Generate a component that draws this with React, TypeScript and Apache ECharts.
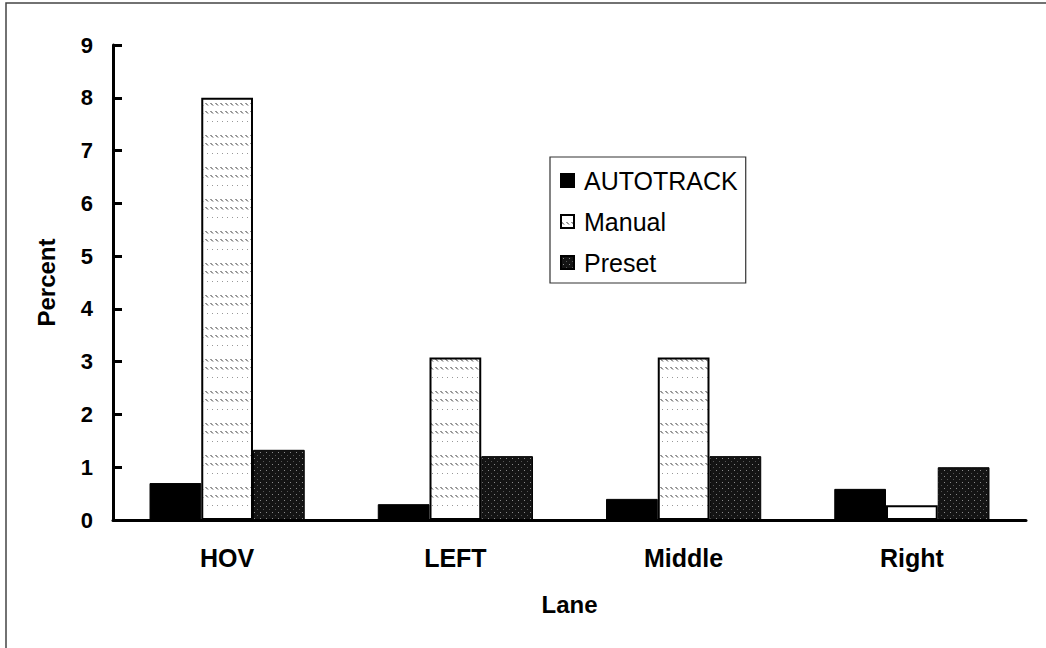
import React, { useEffect, useRef } from "react";
import * as echarts from "echarts";

const categories = ["HOV", "LEFT", "Middle", "Right"];
const autotrack = [0.7, 0.3, 0.4, 0.59];
const manual = [8.0, 3.08, 3.08, 0.28];
const preset = [1.33, 1.21, 1.21, 1.0];
const yTicks = [0, 1, 2, 3, 4, 5, 6, 7, 8, 9];

function manualPattern(): HTMLCanvasElement {
  const c = document.createElement("canvas");
  c.width = 5;
  c.height = 32;
  const ctx = c.getContext("2d")!;
  ctx.fillStyle = "#ffffff";
  ctx.fillRect(0, 0, 5, 32);
  ctx.strokeStyle = "#333333";
  ctx.lineWidth = 1;
  [7, 15].forEach((y) => {
    ctx.beginPath();
    ctx.moveTo(0.5, y);
    ctx.lineTo(3, y + 2.5);
    ctx.stroke();
  });
  ctx.fillStyle = "#999999";
  ctx.fillRect(2, 25, 1, 1);
  return c;
}

function presetPattern(): HTMLCanvasElement {
  const c = document.createElement("canvas");
  c.width = 6;
  c.height = 6;
  const ctx = c.getContext("2d")!;
  ctx.fillStyle = "#141414";
  ctx.fillRect(0, 0, 6, 6);
  ctx.fillStyle = "#8a8a8a";
  ctx.fillRect(2, 2, 1, 1);
  ctx.fillStyle = "#555555";
  ctx.fillRect(5, 5, 1, 1);
  return c;
}

export default function App() {
  const ref = useRef<HTMLDivElement>(null);
  useEffect(() => {
    document.body.style.margin = "0";
    const chart = echarts.init(ref.current!, null, { renderer: "svg" });
    const font = "'Liberation Sans', Arial, sans-serif";
    chart.setOption({
      animation: false,
      backgroundColor: "#ffffff",
      textStyle: { fontFamily: font },
      graphic: [
        {
          type: "rect",
          shape: { x: 6, y: 3, width: 1200, height: 800 },
          style: { fill: "none", stroke: "#444", lineWidth: 1.5 },
          silent: true,
        },
      ],
      grid: { left: 113, right: 20, top: 45, bottom: 128 },
      legend: {
        orient: "vertical",
        left: 550,
        top: 157,
        padding: [11, 8, 8, 10],
        borderColor: "#333",
        borderWidth: 1.2,
        itemWidth: 13,
        itemHeight: 13,
        itemGap: 16,
        icon: "rect",
        textStyle: { fontFamily: font, fontSize: 25, color: "#000", padding: [0, 0, 0, 5] },
        data: ["AUTOTRACK", "Manual", "Preset"],
      },
      xAxis: {
        type: "category",
        data: categories,
        name: "Lane",
        nameLocation: "middle",
        nameGap: 72,
        nameTextStyle: { fontFamily: font, fontWeight: "bold", fontSize: 24, color: "#000" },
        axisLine: { lineStyle: { color: "#000", width: 3 } },
        axisTick: { show: false },
        axisLabel: { fontFamily: font, fontWeight: "bold", fontSize: 25, color: "#000", margin: 25 },
      },
      yAxis: {
        type: "value",
        min: yTicks[0],
        max: yTicks[yTicks.length - 1],
        interval: 1,
        name: "Percent",
        nameLocation: "middle",
        nameGap: 55,
        nameTextStyle: { fontFamily: font, fontWeight: "bold", fontSize: 24, color: "#000" },
        axisLine: { show: true, lineStyle: { color: "#000", width: 3 } },
        axisTick: { show: true, inside: true, length: 9, lineStyle: { color: "#000", width: 3 } },
        axisLabel: { fontFamily: font, fontWeight: "bold", fontSize: 22, color: "#000", margin: 20 },
        splitLine: { show: false },
      },
      series: [
        {
          name: "AUTOTRACK",
          type: "bar",
          data: autotrack,
          barGap: "0%",
          barCategoryGap: "32%",
          itemStyle: { color: "#000", borderColor: "#000", borderWidth: 1 },
        },
        {
          name: "Manual",
          type: "bar",
          data: manual,
          barGap: "0%",
          barCategoryGap: "32%",
          itemStyle: {
            color: { image: manualPattern(), repeat: "repeat" },
            borderColor: "#000",
            borderWidth: 2,
          },
        },
        {
          name: "Preset",
          type: "bar",
          data: preset,
          barGap: "0%",
          barCategoryGap: "32%",
          itemStyle: {
            color: { image: presetPattern(), repeat: "repeat" },
            borderColor: "#000",
            borderWidth: 1,
          },
        },
      ],
    });
    return () => chart.dispose();
  }, []);
  return <div ref={ref} style={{ width: 1046, height: 648 }} />;
}
